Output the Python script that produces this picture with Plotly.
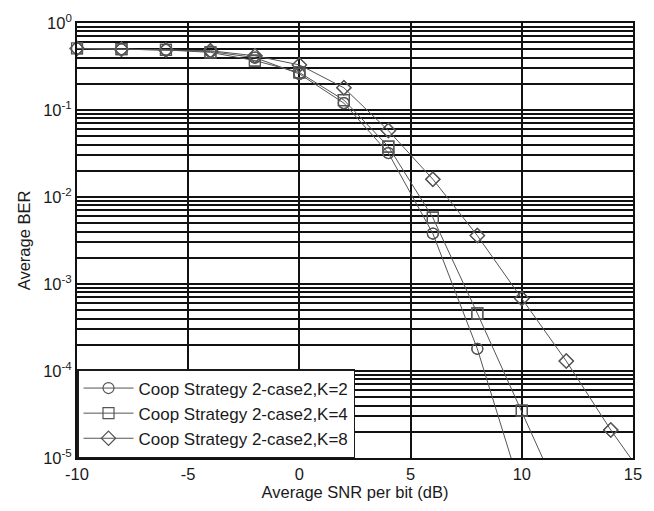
import plotly.graph_objects as go

snr_k2 = [-10, -8, -6, -4, -2, 0, 2, 4, 6, 8, 10]
ber_k2 = [0.51, 0.50, 0.49, 0.47, 0.40, 0.26, 0.12, 0.032, 0.0038, 1.8e-4, 4e-6]

snr_k4 = [-10, -8, -6, -4, -2, 0, 2, 4, 6, 8, 10, 12]
ber_k4 = [0.51, 0.50, 0.49, 0.46, 0.37, 0.27, 0.13, 0.038, 0.0058, 4.6e-4, 3.5e-5, 2.5e-6]

snr_k8 = [-10, -8, -6, -4, -2, 0, 2, 4, 6, 8, 10, 12, 14, 16]
ber_k8 = [0.51, 0.50, 0.49, 0.48, 0.42, 0.33, 0.18, 0.058, 0.016, 0.0036, 6.8e-4, 1.3e-4, 2.1e-5, 4e-6]

names = ["Coop Strategy 2-case2,K=2", "Coop Strategy 2-case2,K=4", "Coop Strategy 2-case2,K=8"]
symbols = ["circle-open", "square-open", "diamond-open"]

x_ticks = [-10, -5, 0, 5, 10, 15]
decades = [-5, -4, -3, -2, -1, 0]
x_min, x_max = -10, 15
y_min, y_max = 1e-5, 1.0

y_tickvals = []
y_ticktext = []
for d in decades:
    y_tickvals.append(10.0 ** d)
    y_ticktext.append("10<sup>%d</sup>" % d)
    if d < 0:
        for m in range(2, 10):
            y_tickvals.append(m * 10.0 ** d)
            y_ticktext.append("")

fig = go.Figure()
for xs, ys, nm, sym in zip([snr_k2, snr_k4, snr_k8], [ber_k2, ber_k4, ber_k8], names, symbols):
    mk = dict(symbol=sym, size=11, color="#555555", line=dict(width=1.2, color="#555555"))
    fig.add_trace(go.Scatter(
        x=xs, y=ys, name=nm, mode="lines+markers",
        line=dict(color="#555555", width=1), marker=mk, cliponaxis=True,
    ))
    xin = [x for x, y in zip(xs, ys) if x_min <= x <= x_max and y_min <= y <= y_max]
    yin = [y for x, y in zip(xs, ys) if x_min <= x <= x_max and y_min <= y <= y_max]
    fig.add_trace(go.Scatter(
        x=xin, y=yin, mode="markers", marker=mk, cliponaxis=False,
        showlegend=False, hoverinfo="skip",
    ))

font_family = "Liberation Sans, Arial, sans-serif"
fig.update_layout(
    width=654, height=511,
    margin=dict(l=77, r=19, t=22, b=49),
    paper_bgcolor="white", plot_bgcolor="white",
    font=dict(family=font_family, size=16, color="#1a1a1a"),
    showlegend=True,
    legend=dict(
        x=0, y=0, xanchor="left", yanchor="bottom",
        bgcolor="white", bordercolor="#1a1a1a", borderwidth=1.5,
        font=dict(size=17, color="#1a1a1a"),
        itemwidth=50, tracegroupgap=0,
    ),
    xaxis=dict(
        range=[x_min, x_max], tickvals=x_ticks, ticktext=[str(v) for v in x_ticks],
        showgrid=True, gridcolor="#111111", gridwidth=1.5,
        showline=True, linecolor="#111111", linewidth=1.8, mirror=True,
        ticks="", zeroline=False,
        title=dict(text="Average SNR per bit (dB)", standoff=5, font=dict(size=16.5)),
        tickfont=dict(size=16.5),
    ),
    yaxis=dict(
        type="log", range=[-5, 0], tickvals=y_tickvals, ticktext=y_ticktext,
        showgrid=True, gridcolor="#111111", gridwidth=1.5,
        showline=True, linecolor="#111111", linewidth=1.8, mirror=True,
        ticks="", zeroline=False,
        title=dict(text="Average BER", standoff=8, font=dict(size=16.5)),
        tickfont=dict(size=16.5),
    ),
)

fig.write_html("out.html")
